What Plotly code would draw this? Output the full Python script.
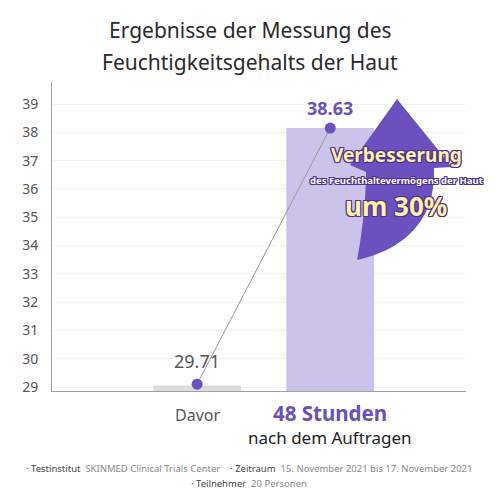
import plotly.graph_objects as go

# values
categories = ["Davor", "48 Stunden"]
x_pos = [0, 1]
bar_height = [29.05, 38.15]
marker_y = [29.10, 38.15]
value_labels = ["29.71", "38.63"]
y_ticks = [29, 30, 31, 32, 33, 34, 35, 36, 37, 38, 39]

PURPLE = "#6b50be"
LAVENDER = "#cbc3ea"
GREY_BAR = "#dcdcdc"
FONT = "Noto Sans"

# plot box in page pixels; the page body adds an 8px margin
OFF = 8
L, R, T, B = 52, 466, 82, 391


def px(x, y):
    return (x - L) / (R - L), (B - y) / (B - T)


def arrow_path():
    pts = [
        ("M", [(397, 99)]),
        ("L", [(452, 167)]),
        ("L", [(434, 168)]),
        ("C", [(436, 215), (410, 248), (357, 260)]),
        ("C", [(362, 235), (366, 200), (366, 172)]),
        ("L", [(350, 165)]),
    ]
    s = ""
    for cmd, ps in pts:
        s += cmd + " " + " ".join("%.4f,%.4f" % px(a, b) for a, b in ps) + " "
    return s + "Z"


def note(x, y, text, size, color, ref="paper", **kw):
    fig.add_annotation(x=x, y=y, xref=ref, yref="paper", text=text, showarrow=False,
                       xanchor="center", yanchor="middle",
                       font=dict(family=FONT, size=size, color=color, **kw))


fig = go.Figure()

fig.add_trace(go.Bar(
    x=x_pos,
    y=bar_height,
    width=0.66,
    marker=dict(color=[GREY_BAR, LAVENDER], line=dict(width=0)),
    hoverinfo="skip",
))

fig.add_trace(go.Scatter(
    x=x_pos,
    y=marker_y,
    mode="lines+markers",
    line=dict(color="#9a9a9a", width=1),
    marker=dict(color=PURPLE, size=11),
    hoverinfo="skip",
))

fig.add_shape(
    type="path", xref="paper", yref="paper",
    path=arrow_path(), fillcolor=PURPLE, line=dict(width=0), layer="above",
)

# value labels
fig.add_annotation(x=x_pos[0], y=marker_y[0], yshift=23, text=value_labels[0],
                   showarrow=False, font=dict(family=FONT, size=18, color="#555555"))
fig.add_annotation(x=x_pos[1], y=marker_y[1], yshift=20, text="<b>" + value_labels[1] + "</b>",
                   showarrow=False, font=dict(family=FONT, size=18, color=PURPLE))

# category labels
note(x_pos[0], px(0, 415)[1], categories[0], 16, "#555555", ref="x")
note(x_pos[1], px(0, 413)[1], "<b>" + categories[1] + "</b>", 20.5, PURPLE, ref="x")
note(x_pos[1], px(0, 437)[1], "nach dem Auftragen", 17, "#222222", ref="x")

# arrow text
outline = ", ".join("%dpx %dpx 0 #4b2f96" % (a, b)
                    for a, b in [(-1, -1), (1, -1), (-1, 1), (1, 1), (0, 1), (1, 0), (-1, 0), (0, -1)])
ax = px(396, 0)[0]
note(ax, px(0, 155)[1], "<b>Verbesserung</b>", 19, "#fff3a0", shadow=outline)
note(ax, px(0, 180)[1], "<b>des Feuchthaltevermögens der Haut</b>", 9.5, "white", shadow=outline)
note(ax, px(0, 206)[1], "<b>um 30%</b>", 26, "#fff3a0", shadow=outline)

# title
note(px(250, 0)[0], px(0, 30)[1], "Ergebnisse der Messung des", 21, "#2a2a2a")
note(px(250, 0)[0], px(0, 62)[1], "Feuchtigkeitsgehalts der Haut", 21, "#2a2a2a")

# footnote
note(px(249, 0)[0], px(0, 468)[1],
     "<span style='color:#444'>· Testinstitut</span>  SKINMED Clinical Trials Center"
     "    <span style='color:#444'>· Zeitraum</span>  15. November 2021 bis 17. November 2021",
     9.5, "#8a8a8a")
note(px(249, 0)[0], px(0, 484)[1],
     "<span style='color:#444'>· Teilnehmer</span>  20 Personen", 9.5, "#8a8a8a")

fig.update_layout(
    width=500, height=500,
    margin=dict(l=L - OFF, r=500 - R + OFF, t=T - OFF, b=500 - B + OFF),
    paper_bgcolor="white", plot_bgcolor="white",
    showlegend=False,
    font=dict(family=FONT),
)
fig.update_xaxes(
    range=[-1.09, 2.02], showticklabels=False, showgrid=False, zeroline=False,
    showline=True, linecolor="#a0a0a0", linewidth=1,
)
fig.update_yaxes(
    range=[28.86, 39.78], tickvals=y_ticks, showgrid=True, gridcolor="#f3f3f3",
    zeroline=False, showline=True, linecolor="#a0a0a0", linewidth=1,
    ticklabelstandoff=10, tickfont=dict(family=FONT, size=14, color="#555555"),
)

fig.write_html("out.html")
